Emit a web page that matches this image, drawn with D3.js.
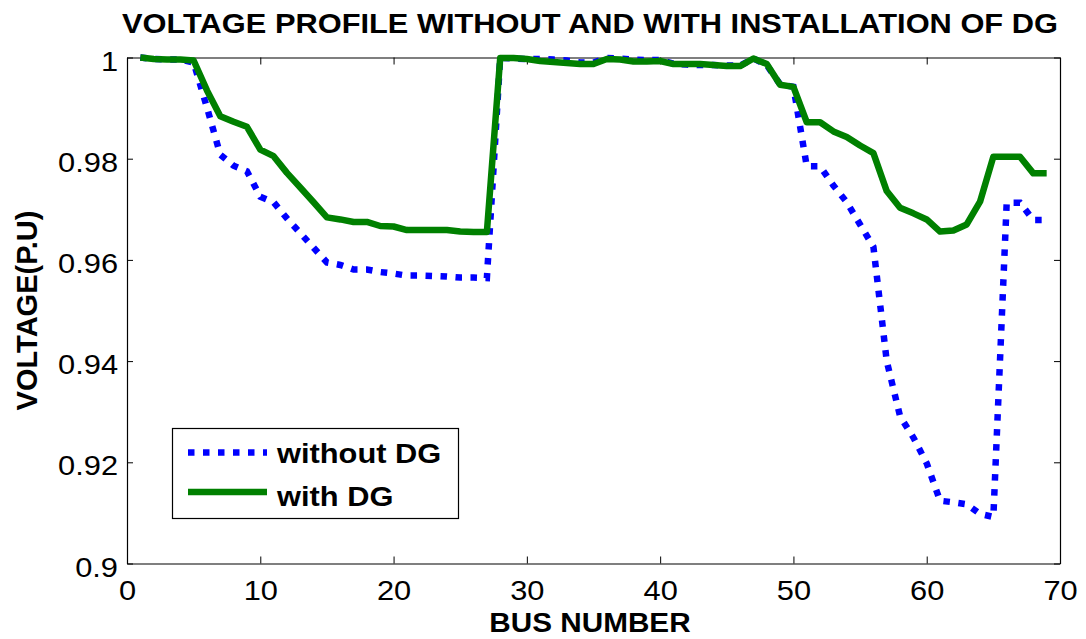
<!DOCTYPE html>
<meta charset="utf-8">
<head>
  <style>
    body { margin: 0; background: white; }
    text { font-family: Arial, "Liberation Sans", sans-serif; fill: black; }
    .title, .axis-label, .legend-text { font-weight: bold; }
  </style>
</head>
<script src="https://d3js.org/d3.v7.min.js"></script>
<div id="my_dataviz"></div>
<script>
// bus numbers of the feeder
const busNumbers = [1, 2, 3, 4, 5, 6, 7, 8, 9, 10, 11, 12, 13, 14, 15, 16, 17, 18, 19, 20,
  21, 22, 23, 24, 25, 26, 27, 28, 29, 30, 31, 32, 33, 34, 35, 36, 37, 38, 39, 40,
  41, 42, 43, 44, 45, 46, 47, 48, 49, 50, 51, 52, 53, 54, 55, 56, 57, 58, 59, 60,
  61, 62, 63, 64, 65, 66, 67, 68, 69];

// voltage (p.u) without DG
const withoutDG = [1.0000, 0.9997, 0.9996, 0.9996, 0.9990, 0.9901, 0.9808, 0.9786, 0.9775, 0.9725,
  0.9714, 0.9682, 0.9653, 0.9624, 0.9595, 0.9590, 0.9581, 0.9581, 0.9576, 0.9573,
  0.9569, 0.9569, 0.9568, 0.9567, 0.9565, 0.9565, 0.9564, 0.9999, 0.9998, 0.9997,
  0.9997, 0.9996, 0.9994, 0.9990, 0.9990, 0.9999, 0.9998, 0.9996, 0.9995, 0.9995,
  0.9988, 0.9986, 0.9985, 0.9985, 0.9984, 0.9984, 0.9998, 0.9985, 0.9947, 0.9942,
  0.9785, 0.9785, 0.9747, 0.9714, 0.9670, 0.9626, 0.9400, 0.9291, 0.9249, 0.9198,
  0.9124, 0.9121, 0.9117, 0.9098, 0.9092, 0.9713, 0.9713, 0.9679, 0.9679];

// voltage (p.u) with DG
const withDG = [1.0000, 0.9997, 0.9996, 0.9996, 0.9994, 0.9935, 0.9884, 0.9873, 0.9863, 0.9818,
  0.9805, 0.9772, 0.9743, 0.9714, 0.9684, 0.9680, 0.9675, 0.9675, 0.9667, 0.9666,
  0.9659, 0.9659, 0.9659, 0.9659, 0.9656, 0.9655, 0.9655, 0.9999, 0.9999, 0.9997,
  0.9993, 0.9991, 0.9989, 0.9987, 0.9987, 0.9997, 0.9996, 0.9992, 0.9992, 0.9993,
  0.9987, 0.9987, 0.9987, 0.9985, 0.9983, 0.9983, 0.9998, 0.9987, 0.9946, 0.9942,
  0.9872, 0.9872, 0.9854, 0.9843, 0.9826, 0.9811, 0.9736, 0.9703, 0.9692, 0.9680,
  0.9656, 0.9658, 0.9670, 0.9715, 0.9804, 0.9804, 0.9804, 0.9771, 0.9771];

const xTicks = [0, 10, 20, 30, 40, 50, 60, 70];
const yTicks = [0.9, 0.92, 0.94, 0.96, 0.98, 1];

const WIDTH = 1086;
const HEIGHT = 639;
const LEFT = 127, RIGHT = 1060, TOP = 57.5, BOTTOM = 563.5;
const STRETCH = 1.1; // the original text is a bit wide

var svg = d3.select("#my_dataviz")
  .append("svg")
  .attr("width", WIDTH)
  .attr("height", HEIGHT)
  .style("background", "white");

var x = d3.scaleLinear().domain([0, 70]).range([LEFT, RIGHT]);
var y = d3.scaleLinear().domain([0.9, 1]).range([BOTTOM, TOP]);

// box and ticks (inward, matlab style)
svg.append("g")
  .attr("transform", `translate(0,${BOTTOM})`)
  .call(d3.axisBottom(x).tickValues(xTicks).tickSizeInner(-7).tickSizeOuter(0).tickFormat(d3.format("d")))
  .call(g => g.selectAll("text").attr("y", 36).attr("dy", null).style("font-size", "28px"));

svg.append("g")
  .attr("transform", `translate(0,${TOP})`)
  .call(d3.axisTop(x).tickValues(xTicks).tickSizeInner(-7).tickSizeOuter(0).tickFormat(""));

svg.append("g")
  .attr("transform", `translate(${LEFT},0)`)
  .call(d3.axisLeft(y).tickValues(yTicks).tickSizeInner(-6).tickSizeOuter(0).tickFormat(d => d3.format("")(+d.toFixed(2))))
  .call(g => g.selectAll("text").attr("x", -9).attr("dy", "0.45em").style("font-size", "28px"));

svg.append("g")
  .attr("transform", `translate(${RIGHT},0)`)
  .call(d3.axisRight(y).tickValues(yTicks).tickSizeInner(-6).tickSizeOuter(0).tickFormat(""));

svg.selectAll(".domain").attr("stroke", "black").attr("stroke-width", 1.2);
svg.selectAll(".tick line").attr("stroke", "black");

// lines
var line = d3.line()
  .x((d, i) => x(busNumbers[i]))
  .y(d => y(d));

svg.append("path")
  .datum(withoutDG)
  .attr("d", line)
  .attr("fill", "none")
  .attr("stroke", "#0000FF")
  .attr("stroke-width", 6.5)
  .attr("stroke-dasharray", "6.5,8.5");

svg.append("path")
  .datum(withDG)
  .attr("d", line)
  .attr("fill", "none")
  .attr("stroke", "#008000")
  .attr("stroke-width", 6.5)
  .attr("stroke-linejoin", "round");

// title and axis labels
svg.append("text")
  .attr("class", "title")
  .attr("x", 590)
  .attr("y", 33)
  .attr("text-anchor", "middle")
  .style("font-size", "28px")
  .text("VOLTAGE PROFILE WITHOUT AND WITH INSTALLATION OF DG");

svg.append("text")
  .attr("class", "axis-label")
  .attr("x", 590)
  .attr("y", 632)
  .attr("text-anchor", "middle")
  .style("font-size", "27px")
  .text("BUS NUMBER");

svg.append("text")
  .attr("class", "axis-label no-stretch")
  .attr("transform", `translate(37,${(TOP + BOTTOM) / 2}) rotate(-90)`)
  .attr("text-anchor", "middle")
  .style("font-size", "29px")
  .text("VOLTAGE(P.U)");

// legend
var legend = svg.append("g");
legend.append("rect")
  .attr("x", 172.5).attr("y", 428.5)
  .attr("width", 286).attr("height", 90)
  .attr("fill", "white").attr("stroke", "black").attr("stroke-width", 1.2);

var legendItems = [
  { name: "without DG", color: "#0000FF", dash: "6.5,8.5", y: 452.5, ty: 463 },
  { name: "with DG", color: "#008000", dash: null, y: 492, ty: 506 }
];

legendItems.forEach(d => {
  legend.append("line")
    .attr("x1", 188).attr("x2", 267)
    .attr("y1", d.y).attr("y2", d.y)
    .attr("stroke", d.color)
    .attr("stroke-width", 6.5)
    .attr("stroke-dasharray", d.dash);
  legend.append("text")
    .attr("class", "legend-text")
    .attr("x", 277)
    .attr("y", d.ty)
    .style("font-size", "28px")
    .text(d.name);
});

// widen the text a little to match the original
svg.selectAll("text:not(.no-stretch)").each(function () {
  var w = this.getComputedTextLength();
  if (w > 0) {
    d3.select(this)
      .attr("textLength", w * STRETCH)
      .attr("lengthAdjust", "spacingAndGlyphs");
  }
});
</script>
